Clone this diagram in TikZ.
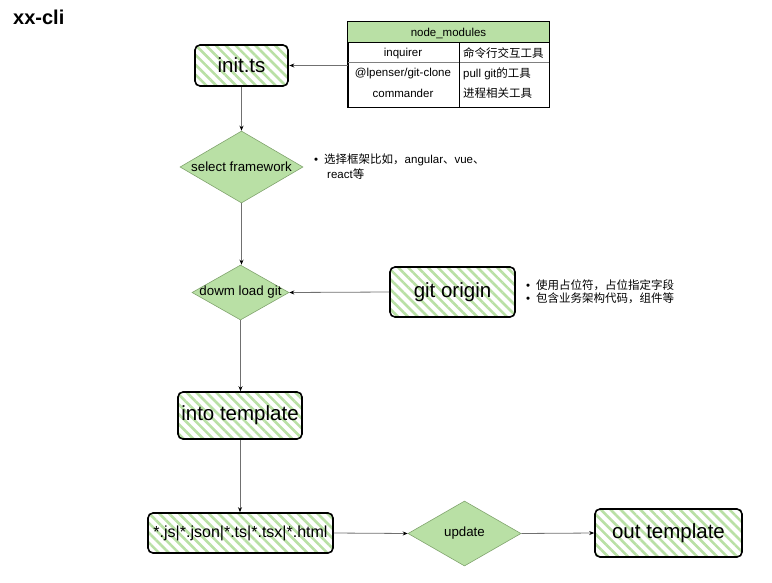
\documentclass[tikz,border=0pt]{standalone}
\usepackage{fontspec}
\setmainfont{Liberation Sans}
\newfontfamily\cjk{Noto Sans CJK SC}
\newcommand\zh[1]{{\cjk #1}}
\usetikzlibrary{shapes.geometric,arrows.meta,patterns.meta}
\definecolor{lg}{HTML}{B9E0A5}
\definecolor{lgb}{HTML}{82B366}
\definecolor{conn}{HTML}{707070}
\tikzset{
  hbox/.style={draw=black, line width=1.6pt, rounded corners=5pt,
    pattern={Lines[angle=-45,distance=7pt,line width=2.6pt]}, pattern color=lg,
    inner sep=0pt, font=\fontsize{20.5}{22}\selectfont},
  dmd/.style={diamond, draw=lgb!70!gray, fill=lg, inner sep=0pt, line width=0.6pt},
  dlabel/.style={font=\fontsize{13.3}{15}\selectfont},
  conn/.style={draw=conn, line width=0.8pt, -{Stealth[length=5pt,width=4pt,color=black]}},
  tcell/.style={font=\fontsize{11.5}{13}\selectfont, inner sep=0pt},
  note/.style={font=\fontsize{11.5}{13}\selectfont, inner sep=0pt, anchor=west, align=left},
}
\begin{document}
\begin{tikzpicture}[x=1pt,y=-1pt]
\useasboundingbox (0,0) rectangle (772,582);
\node[font=\bfseries\fontsize{20}{22}\selectfont, anchor=west, inner sep=0pt] (title) at (13,17) {xx-cli};

% table
\node[draw=black, line width=0.8pt, minimum width=201pt, minimum height=85pt, inner sep=0pt] (nm) at (448.5,64.5) {};
\fill[lg] (348.4,22.4) rectangle (548.6,42);
\draw[black, line width=0.8pt] (nm.north west) rectangle (nm.south east);
\draw[black, line width=0.7pt] (348,42) -- (549,42);
\draw[gray, line width=0.7pt] (348,62) -- (549,62);
\draw[black, line width=0.8pt] (459,42) -- (459,107);
\node[tcell] (h) at (448.5,33) {node\_modules};
\node[tcell] (c11) at (403,53.5) {inquirer};
\node[tcell,anchor=west] (c12) at (463,53.5) {\zh{命令行交互工具}};
\node[tcell] (c21) at (403,73.5) {@lpenser/git-clone};
\node[tcell,anchor=west] (c22) at (463,73.5) {pull git\zh{的工具}};
\node[tcell] (c31) at (403,93.5) {commander};
\node[tcell,anchor=west] (c32) at (463,93.5) {\zh{进程相关工具}};

% boxes
\node[hbox, minimum width=93pt, minimum height=41pt] (init) at (241.5,65.5) {init.ts};
\node[dmd, minimum width=123pt, minimum height=72pt, label={[dlabel]center:select framework}] (sel) at (241.5,167) {};
\node[dmd, minimum width=97pt, minimum height=55pt, label={[dlabel]center:dowm load git}] (dl) at (240.5,292.5) {};
\node[hbox, minimum width=125pt, minimum height=50pt] (go) at (452.5,292) {git origin};
\node[hbox, minimum width=124pt, minimum height=47pt] (into) at (240,415.5) {into template};
\node[hbox, minimum width=185pt, minimum height=40pt, font=\fontsize{16}{18}\selectfont] (js) at (240.5,533) {*.js|*.json|*.ts|*.tsx|*.html};
\node[dmd, minimum width=113pt, minimum height=65pt, label={[dlabel]center:update}] (up) at (464.5,533.5) {};
\node[hbox, minimum width=147pt, minimum height=48pt] (out) at (668.5,533) {out template};

% notes
\node[note] (n1) at (314,160) {•\hspace{6pt}\zh{选择框架比如，}angular\zh{、}vue\zh{、}};
\node[note] (n1b) at (327,174) {react\zh{等}};
\node[note] (n2) at (526,285) {•\hspace{6pt}\zh{使用占位符，占位指定字段}};
\node[note] (n3) at (526,298) {•\hspace{6pt}\zh{包含业务架构代码，组件等}};

% connectors
\draw[conn] (nm.west |- init.east) -- (init.east);
\draw[conn] (init.south) -- (sel.north);
\draw[conn] (sel.south) -- (dl.north -| sel.south);
\draw[conn] (go.west) -- (dl.east);
\draw[conn] (dl.south) -- (into.north -| dl.south);
\draw[conn] (into.south) -- (js.north -| into.south);
\draw[conn] (js.east) -- (up.west);
\draw[conn] (up.east) -- (out.west);
\end{tikzpicture}
\end{document}
